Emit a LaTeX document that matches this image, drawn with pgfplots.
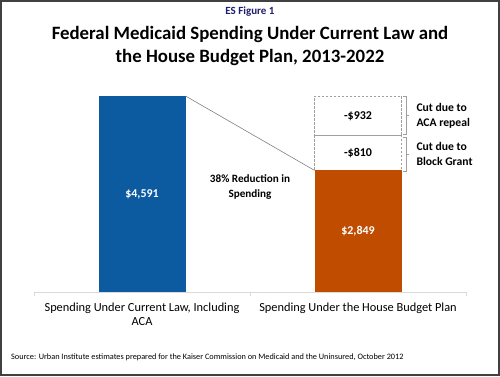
\documentclass[border=0pt]{standalone}
\usepackage{fontspec}
\setmainfont{Carlito}
\usepackage{pgfplots}
\pgfplotsset{compat=1.18}
\definecolor{barblue}{RGB}{12,90,160}
\definecolor{barorange}{RGB}{192,76,0}
\definecolor{navy}{RGB}{31,31,110}
\definecolor{axgray}{RGB}{217,217,217}
\begin{document}
\begin{tikzpicture}[x=1bp,y=1bp]
\path[use as bounding box] (0,0) rectangle (500,376);
\draw[line width=2bp, draw=black!75] (1,1) rectangle (499,375);
\node[font=\bfseries\fontsize{11}{13}\selectfont, text=navy, anchor=base] at (250,362) {ES Figure 1};
\node[font=\bfseries\fontsize{18.9}{22}\selectfont, anchor=base] at (250,336.5) {Federal Medicaid Spending Under Current Law and};
\node[font=\bfseries\fontsize{18.9}{22}\selectfont, anchor=base] at (250,314) {the House Budget Plan, 2013-2022};
\begin{axis}[at={(34bp,84bp)}, anchor=south west, scale only axis, width=432bp, height=213.46bp,
  xmin=-0.5, xmax=1.5, ymin=0, ymax=5000, clip=false,
  hide axis, ybar stacked, bar width=87bp]
\addplot[fill=barorange, draw=none] coordinates {(1,2849)};
\addplot[fill=white, draw=gray!75, line width=0.7bp, dash pattern=on 2.5bp off 1.5bp] coordinates {(1,810)};
\addplot[fill=white, draw=gray!75, line width=0.7bp, dash pattern=on 2.5bp off 1.5bp] coordinates {(1,932)};
\end{axis}
\begin{axis}[at={(34bp,84bp)}, anchor=south west, scale only axis, width=432bp, height=213.46bp,
  xmin=-0.5, xmax=1.5, ymin=0, ymax=5000, clip=false,
  axis y line=none, axis x line*=bottom,
  x axis line style={draw=axgray, line width=1bp, -},
  ytick=\empty, xtick={0,1},
  xticklabels={{Spending Under Current Law, Including\\ACA},{Spending Under the House Budget Plan}},
  xticklabel style={align=center, font=\fontsize{12.4}{14.8}\selectfont, yshift=-7bp},
  major tick length=0pt, tick align=outside,
  extra x ticks={-0.5,0.5,1.5}, extra x tick labels={},
  extra x tick style={major tick length=4bp, tick style={draw=axgray, line width=1bp}},
  ybar, bar width=87bp, bar shift=0pt]
\addplot[fill=barblue, draw=none] coordinates {(0,4591)};
\draw[draw=gray, line width=0.6bp] ([xshift=43.5bp]axis cs:0,4591) -- ([xshift=-43.5bp]axis cs:1,2849);
\node[font=\bfseries\fontsize{12}{14}\selectfont, text=white] at (axis cs:0,2295) {\$4,591};
\node[font=\bfseries\fontsize{11.2}{14.5}\selectfont, align=center] at (axis cs:0.5,2459) {38\% Reduction in\\Spending};
\node[font=\bfseries\fontsize{12}{14}\selectfont, text=white] at (axis cs:1,1424) {\$2,849};
\node[font=\bfseries\fontsize{12}{14}\selectfont] at (axis cs:1,3254) {-\$810};
\node[font=\bfseries\fontsize{12}{14}\selectfont] at (axis cs:1,4125) {-\$932};
\end{axis}
\draw[draw=gray!75, line width=0.7bp] (403,280) -- (406,280) -- (406,242) -- (403,242) (406,261) -- (409,261);
\draw[draw=gray!75, line width=0.7bp] (403,239) -- (406,239) -- (406,205) -- (403,205) (406,222) -- (409,222);
\node[font=\bfseries\fontsize{11.7}{14.5}\selectfont, align=left, anchor=west] at (413,260) {Cut due to\\ACA repeal};
\node[font=\bfseries\fontsize{11.7}{14.5}\selectfont, align=left, anchor=west] at (413,222) {Cut due to\\Block Grant};
\node[font=\fontsize{8.3}{10}\selectfont, anchor=base west, inner sep=0pt] at (11,16.7) {Source: Urban Institute estimates prepared for the Kaiser Commission on Medicaid and the Uninsured, October 2012};
\end{tikzpicture}
\end{document}
